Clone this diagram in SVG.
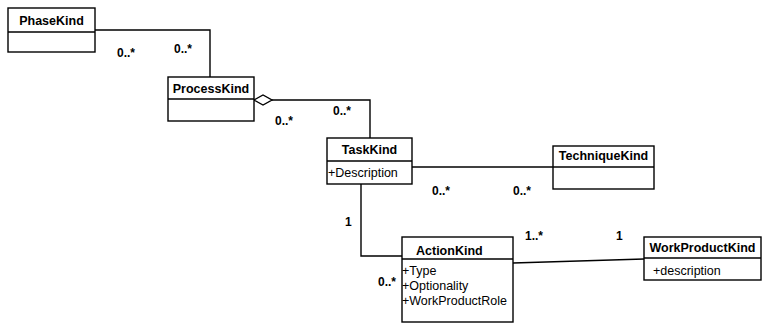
<svg xmlns="http://www.w3.org/2000/svg" width="762" height="327" viewBox="0 0 762 327">
<style>
.box{fill:#fff;stroke:#000;stroke-width:1.4}
.ln{fill:none;stroke:#000;stroke-width:1.4}
.t{font-family:"Liberation Sans",Arial,sans-serif;font-size:12.5px;font-weight:bold;fill:#000}
.a{font-family:"Liberation Sans",Arial,sans-serif;font-size:12.5px;fill:#000}
.m{font-family:"Liberation Sans",Arial,sans-serif;font-size:12px;font-weight:bold;fill:#000}
</style>
<rect width="762" height="327" fill="#fff"/>
<g id="connectors">
<polyline class="ln" points="95,30 210,30 210,77"/>
<polyline class="ln" points="272,100 370,100 370,138"/>
<polygon class="box" points="254,100 263,95 272,100 263,105"/>
<line class="ln" x1="412" y1="167" x2="553" y2="167"/>
<polyline class="ln" points="361,184 361,256 402,256"/>
<line class="ln" x1="513" y1="263" x2="644" y2="259"/>
<text class="m" x="117" y="57">0..*</text>
<text class="m" x="174" y="53">0..*</text>
<text class="m" x="275" y="125">0..*</text>
<text class="m" x="333" y="115">0..*</text>
<text class="m" x="432" y="195">0..*</text>
<text class="m" x="513" y="195">0..*</text>
<text class="m" x="345" y="226">1</text>
<text class="m" x="378" y="286">0..*</text>
<text class="m" x="525" y="240">1..*</text>
<text class="m" x="616" y="240">1</text>
</g>
<g id="PhaseKind">
<rect class="box" x="8" y="8" width="87" height="44"/>
<line class="ln" x1="8" y1="32" x2="95" y2="32"/>
<text class="t" x="51.5" y="25" text-anchor="middle">PhaseKind</text>
</g>
<g id="ProcessKind">
<rect class="box" x="168" y="77" width="86" height="44"/>
<line class="ln" x1="168" y1="99" x2="254" y2="99"/>
<text class="t" x="211" y="93" text-anchor="middle">ProcessKind</text>
</g>
<g id="TaskKind">
<rect class="box" x="327" y="138" width="85" height="46"/>
<line class="ln" x1="327" y1="161" x2="412" y2="161"/>
<text class="t" x="369.5" y="154" text-anchor="middle">TaskKind</text>
<text class="a" x="328" y="177">+Description</text>
</g>
<g id="TechniqueKind">
<rect class="box" x="553" y="146" width="101" height="43"/>
<line class="ln" x1="553" y1="167" x2="654" y2="167"/>
<text class="t" x="603.5" y="160" text-anchor="middle">TechniqueKind</text>
</g>
<g id="ActionKind">
<rect class="box" x="402" y="237" width="111" height="85"/>
<line class="ln" x1="402" y1="259" x2="513" y2="259"/>
<text class="t" x="416" y="255">ActionKind</text>
<text class="a" x="402" y="275">+Type</text>
<text class="a" x="402" y="290">+Optionality</text>
<text class="a" x="402" y="305">+WorkProductRole</text>
</g>
<g id="WorkProductKind">
<rect class="box" x="644" y="237" width="117" height="43"/>
<line class="ln" x1="644" y1="258" x2="761" y2="258"/>
<text class="t" x="702.5" y="252" text-anchor="middle">WorkProductKind</text>
<text class="a" x="653" y="275">+description</text>
</g>
</svg>
